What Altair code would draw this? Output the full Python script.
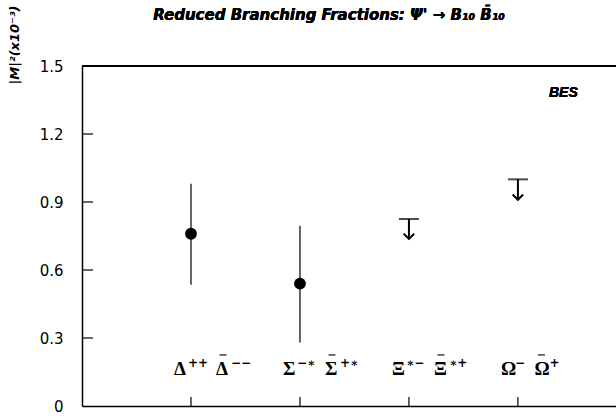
import altair as alt
import pandas as pd

# Measured reduced branching fractions |M|^2 (x10^-3)
meas_names = ["Δ", "Σ"]
meas_pos = [1, 2]
meas_val = [0.76, 0.54]
meas_lo = [0.535, 0.28]
meas_hi = [0.98, 0.795]

# Upper limits
lim_names = ["Ξ", "Ω"]
lim_pos = [3, 4]
lim_val = [0.825, 1.0]
lim_tip = [0.737, 0.91]

# Channel labels: baryon letter, charge of the baryon, charge of the antibaryon
chan_pos = [1, 2, 3, 4]
chan_base = ["Δ", "Σ", "Ξ", "Ω"]
chan_sup1 = ["++", "−∗", "∗−", "−"]
chan_sup2 = ["−−", "+∗", "∗+", "+"]
label_y = 0.137

y_ticks = [0, 0.3, 0.6, 0.9, 1.2, 1.5]
x_ticks = [1, 2, 3, 4]

meas = pd.DataFrame({"name": meas_names, "pos": meas_pos, "val": meas_val,
                     "lo": meas_lo, "hi": meas_hi})
lims = pd.DataFrame({"name": lim_names, "pos": lim_pos, "val": lim_val, "tip": lim_tip})
chans = pd.DataFrame({"pos": chan_pos, "base": chan_base, "sup1": chan_sup1,
                      "sup2": chan_sup2, "y": [label_y] * 4})
yt = pd.DataFrame({"v": y_ticks[1:-1]})
xt = pd.DataFrame({"p": x_ticks})

W, H = 534, 340
XMAX, YMAX = 4.9, 1.5
PX = W / XMAX  # pixels per x unit, used to space the label pieces
PY = H / YMAX  # pixels per y unit
xs = alt.Scale(domain=[0, XMAX], nice=False, zero=False)
ys = alt.Scale(domain=[0, YMAX], nice=False)

base_x = alt.X("pos:Q", scale=xs, axis=alt.Axis(
    values=x_ticks, labels=False, ticks=False, title=None, grid=False,
    domainColor="black", domainWidth=1.5))

# Error bars
errs = alt.Chart(meas).mark_rule(color="black", strokeWidth=1.2).encode(
    x=base_x,
    y=alt.Y("lo:Q", scale=ys, axis=alt.Axis(
        values=y_ticks, ticks=False, grid=False, domainColor="black",
        domainWidth=1.5, labelFont="DejaVu Sans", labelFontSize=15,
        labelColor="black", labelPadding=19,
        labelExpr="datum.value == 0 ? '0' : format(datum.value, '.1f')",
        title="|M|²(x10⁻³)", titleFont="DejaVu Sans", titleFontSize=13,
        titleFontStyle="italic", titleFontWeight="bold", titleAngle=270,
        titleAlign="left", titleBaseline="middle", titleX=-68, titleY=18)),
    y2="hi:Q",
)

pts = alt.Chart(meas).mark_circle(color="black", opacity=1, size=140).encode(
    x=alt.X("pos:Q", scale=xs), y=alt.Y("val:Q", scale=ys))

# Upper-limit bars and arrows
lim_bar = alt.Chart(lims).mark_tick(orient="horizontal", color="black",
                                    size=20, thickness=2).encode(
    x=alt.X("pos:Q", scale=xs), y=alt.Y("val:Q", scale=ys))
lim_stem = alt.Chart(lims).mark_rule(color="black", strokeWidth=2).encode(
    x=alt.X("pos:Q", scale=xs), y=alt.Y("val:Q", scale=ys), y2="tip:Q")
lim_head = alt.Chart(lims).mark_point(
    shape="M-1,-1L0,0L1,-1", filled=False, color="black", strokeWidth=2,
    size=110, opacity=1).encode(
    x=alt.X("pos:Q", scale=xs), y=alt.Y("tip:Q", scale=ys))

# Channel labels assembled from pieces: letter, charge, barred letter, charge
lab = alt.Chart(chans).transform_calculate(
    x_b2=f"datum.pos + (8 + 8.5 * length(datum.sup1)) / {PX}",
    y_bar=f"datum.y + 20 / {PY}",
).transform_calculate(
    x_bar=f"datum.x_b2 + 7 / {PX}",
    x_s2=f"datum.x_b2 + 15 / {PX}",
)
big = dict(font="Liberation Serif", fontSize=19, fontWeight="bold",
           baseline="alphabetic", color="black")
small = dict(font="DejaVu Serif", fontSize=12, fontWeight="bold",
             baseline="alphabetic", color="black", dy=-8)
b1 = lab.mark_text(align="left", dx=-17, **big).encode(
    x=alt.X("pos:Q", scale=xs), y=alt.Y("y:Q", scale=ys), text="base:N")
s1 = lab.mark_text(align="left", dx=-3, **small).encode(
    x=alt.X("pos:Q", scale=xs), y=alt.Y("y:Q", scale=ys), text="sup1:N")
b2 = lab.mark_text(align="left", **big).encode(
    x=alt.X("x_b2:Q", scale=xs), y=alt.Y("y:Q", scale=ys), text="base:N")
bar = lab.mark_tick(orient="horizontal", color="black", size=7,
                    thickness=1.6).encode(
    x=alt.X("x_bar:Q", scale=xs), y=alt.Y("y_bar:Q", scale=ys))
s2 = lab.mark_text(align="left", **small).encode(
    x=alt.X("x_s2:Q", scale=xs), y=alt.Y("y:Q", scale=ys), text="sup2:N")

# Inward ticks on the axes
ytick_marks = alt.Chart(yt).mark_rule(color="black", strokeWidth=1.2).encode(
    y=alt.Y("v:Q", scale=ys), x=alt.value(0), x2=alt.value(11))
xtick_marks = alt.Chart(xt).mark_rule(color="black", strokeWidth=1.2).encode(
    x=alt.X("p:Q", scale=xs), y=alt.value(H), y2=alt.value(H - 9))
top_line = alt.Chart(xt).mark_rule(color="black", strokeWidth=1.5).encode(
    x=alt.value(0), x2=alt.value(W), y=alt.value(0))

bes = alt.Chart(xt).mark_text(
    text="BES", font="Liberation Sans", fontSize=14, fontStyle="italic",
    fontWeight="bold", align="left", baseline="middle", color="black").encode(
    x=alt.value(467), y=alt.value(27))

title = alt.Chart(xt).mark_text(
    text="Reduced Branching Fractions:  Ψ' → B₁₀ B̄₁₀", font="DejaVu Sans",
    fontSize=15, fontStyle="italic", fontWeight="bold", align="center",
    baseline="middle", color="black").encode(
    x=alt.value(247), y=alt.value(-51))

chart = alt.layer(
    errs, pts, lim_bar, lim_stem, lim_head, b1, s1, b2, bar, s2,
    ytick_marks, xtick_marks, top_line, bes, title,
).properties(
    width=W, height=H,
    autosize=alt.AutoSizeParams(type="none"),
    padding={"left": 82, "top": 66, "right": 0, "bottom": 10},
).configure_view(stroke=None).configure(background="white")

chart.save("out.html", embed_options={"renderer": "svg", "actions": False})
